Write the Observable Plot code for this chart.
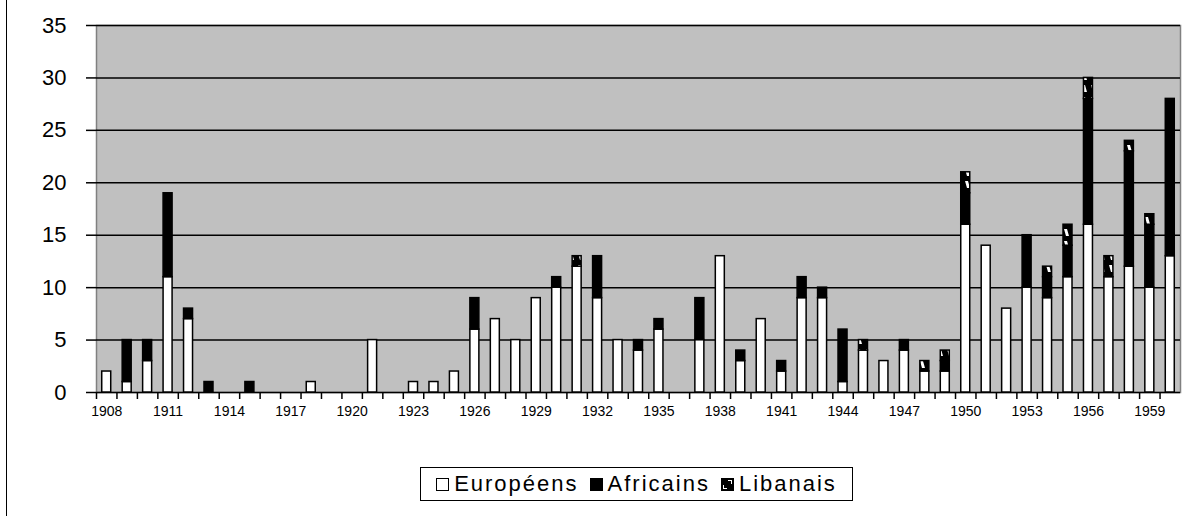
<!DOCTYPE html>
<html><head><meta charset="utf-8">
<script src="https://cdn.jsdelivr.net/npm/d3@7"></script>
<script src="https://cdn.jsdelivr.net/npm/@observablehq/plot@0.6"></script>
<style>
body{margin:0;background:#fff;font-family:"Liberation Sans",Arial,sans-serif;width:1184px;height:516px;overflow:hidden;position:relative}
#chart{position:absolute;left:0;top:0}
#border{position:absolute;left:6px;top:0;width:0;height:516px;border-left:1.5px solid #000}
#legend{position:absolute;left:420px;top:467px;width:433px;height:34px;border:1.5px solid #000;box-sizing:border-box;display:flex;align-items:center;justify-content:center;gap:11px;font-size:22px;letter-spacing:2px;background:#fff}
#legend span.item{display:flex;align-items:center;gap:5px}
#legend .sw{width:13px;height:13px;border:1.5px solid #000;box-sizing:border-box;display:inline-block}
</style></head>
<body>
<div id="border"></div>
<div id="chart"></div>
<div id="legend"></div>
<script>
const years = d3.range(1908, 1961).map(String);
const seriesNames = ["Européens", "Africains", "Libanais"];
const europeens = [2,1,3,11,7,0,0,0,0,0,1,0,0,5,0,1,1,2,6,7,5,9,10,12,9,5,4,6,0,5,13,3,7,2,9,9,1,4,3,4,2,2,16,14,8,10,9,11,16,11,12,10,13];
const africains = [0,4,2,8,1,1,0,1,0,0,0,0,0,0,0,0,0,0,3,0,0,0,1,0,4,0,1,1,0,4,0,1,0,1,2,1,5,0,0,1,0,1,3,0,0,5,2,3,12,0,11,6,15];
const libanais  = [0,0,0,0,0,0,0,0,0,0,0,0,0,0,0,0,0,0,0,0,0,0,0,1,0,0,0,0,0,0,0,0,0,0,0,0,0,1,0,0,1,1,2,0,0,0,1,2,2,2,1,1,0];
const yTicks = [0,5,10,15,20,25,30,35];
const xLabels = years.filter((y, i) => i % 3 === 0);

const seriesValues = [europeens, africains, libanais];
const data = [];
years.forEach((y, i) => seriesNames.forEach((s, k) => {
  if (seriesValues[k][i] > 0) data.push({year: y, series: s, value: seriesValues[k][i]});
}));

const W = 1184, ML = 96, MR = 4, MT = 25, H = 428, MB = H - 392;
const step = (W - ML - MR) / years.length;

const plot = Plot.plot({
  width: W, height: H,
  marginLeft: ML, marginRight: MR, marginTop: MT, marginBottom: MB,
  style: {fontFamily: '"Liberation Sans", Arial, sans-serif', background: "transparent"},
  x: {domain: years, paddingInner: 0.56, paddingOuter: 0.28, round: false, label: null},
  y: {domain: [0, 35], label: null},
  color: {domain: seriesNames, range: ["#ffffff", "#000000", "url(#libpat)"]},
  marks: [
    Plot.frame({fill: "#C0C0C0", stroke: "#808080", strokeWidth: 1.5}),
    Plot.gridY(yTicks, {stroke: "#000", strokeOpacity: 1, strokeWidth: 1.5}),
    Plot.barY(data, Plot.stackY({x: "year", y: "value", fill: "series", stroke: "#000", strokeWidth: 1.5})),
    Plot.axisY(yTicks, {tickSize: 10, tickPadding: 20, fontSize: 22, line: true, stroke: "#000", strokeWidth: 1.5, label: null, style: {letterSpacing: "2.5px"}}),
    Plot.axisX(years, {tickSize: 7, tickFormat: () => "", dx: -step / 2, line: true, stroke: "#000", strokeWidth: 1.5, label: null}),
    Plot.axisX(xLabels, {tickSize: 0, tickPadding: 14, fontSize: 14, label: null, style: {letterSpacing: "1.6px"}})
  ]
});
const svg = d3.select(plot);
const defs = svg.insert("defs", ":first-child");
const pat = defs.append("pattern").attr("id", "libpat").attr("patternUnits", "userSpaceOnUse").attr("width", 9).attr("height", 12);
pat.append("rect").attr("width", 9).attr("height", 12).attr("fill", "#000");
pat.append("path").attr("d", "M2,1 L5,1 L7,8 L4,8 Z").attr("fill", "#fff");
document.getElementById("chart").appendChild(plot);

// legend
const legend = d3.select("#legend");
const swFill = ["#fff", "#000", "#000"];
seriesNames.forEach((s, k) => {
  const it = legend.append("span").attr("class", "item");
  const sw = it.append("span").attr("class", "sw").style("background", swFill[k]);
  if (k === 2) {
    sw.style("position", "relative");
    sw.append("span").style("position","absolute").style("left","1px").style("bottom","1px").style("width","3px").style("height","3px").style("border-left","1px solid #fff").style("border-bottom","1px solid #fff");
    sw.append("span").style("position","absolute").style("right","1px").style("top","1px").style("width","3px").style("height","3px").style("border-right","1px solid #fff").style("border-top","1px solid #fff");
  }
  it.append("span").text(s);
});
</script>
</body></html>
